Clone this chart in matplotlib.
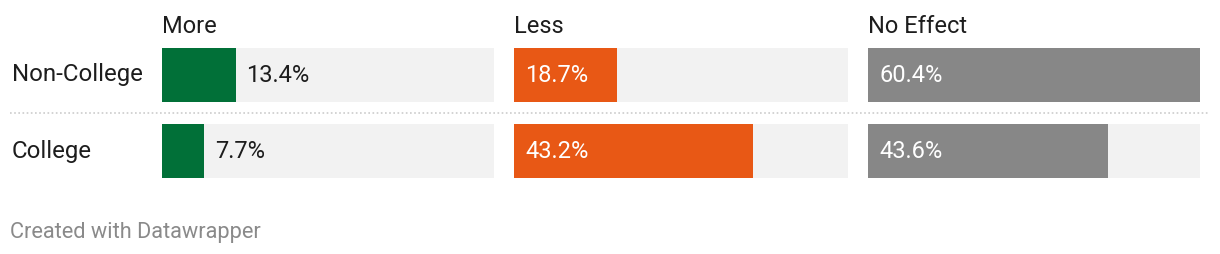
import matplotlib
matplotlib.use("Agg")
import matplotlib.pyplot as plt
from matplotlib.transforms import blended_transform_factory
from matplotlib.lines import Line2D

plt.rcParams['font.family'] = ['Roboto', 'DejaVu Sans']

groups = ['Non-College', 'College']
columns = ['More', 'Less', 'No Effect']
more = [13.4, 7.7]
less = [18.7, 43.2]
no_effect = [60.4, 43.6]
colors = ['#017038', '#e85815', '#878787']

W, H = 1220, 254
fig = plt.figure(figsize=(W / 100, H / 100), dpi=100)

# panel x positions in pixels (left, width)
panels = [(162, 332), (514, 334), (868, 332)]
top, bottom = 48, 178
vmax = max(more + less + no_effect)

axes = []
for (left, width), name, vals, col in zip(panels, columns, [more, less, no_effect], colors):
    ax = fig.add_axes([left / W, 1 - bottom / H, width / W, (bottom - top) / H])
    ypos = range(len(groups))
    ax.barh(ypos, [vmax] * len(groups), height=0.71, color='#f2f2f2')
    ax.barh(ypos, vals, height=0.71, color=col)
    ax.set_xlim(0, vmax)
    ax.set_ylim(1.355, -0.355)
    ax.axis('off')
    px_per_unit = width / vmax
    for y, v in zip(ypos, vals):
        if v * px_per_unit > 90:
            ax.annotate(f'{v}%', (0, y), xytext=(8, -0.7), textcoords='offset points',
                        va='center', ha='left', color='white', fontsize=17)
        else:
            ax.annotate(f'{v}%', (v, y), xytext=(7.5, -0.7), textcoords='offset points',
                        va='center', ha='left', color='#1d1d1d', fontsize=17)
    ax.text(0, 1 + 21.5 / 130, name, transform=ax.transAxes, va='center', ha='left',
            fontsize=17, color='#1d1d1d')
    axes.append(ax)

tr = blended_transform_factory(fig.transFigure, axes[0].transData)
for i, g in enumerate(groups):
    fig.text(12 / W, i, g, transform=tr, va='center', ha='left', fontsize=17.3, color='#1d1d1d')

fig.add_artist(Line2D([10 / W, 1208 / W], [0.5, 0.5], transform=tr, color='#cccccc',
                      linewidth=1.2, linestyle=(0, (1, 1.5))))

fig.text(10 / W, 1 - 232.5 / H, 'Created with Datawrapper', va='center', ha='left',
         fontsize=15.7, color='#8a8a8a')

fig.savefig('out.png', dpi=100, facecolor='white')
